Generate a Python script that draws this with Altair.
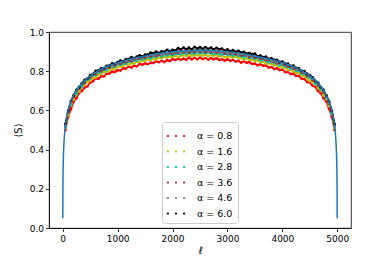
import altair as alt
import pandas as pd

# subsystem sizes for the simulated data (dots)
ELL = list(range(50, 5000, 50))

SERIES = ["α = 0.8", "α = 1.6", "α = 2.8", "α = 3.6", "α = 4.6", "α = 6.0"]
COLORS = ["#ff0000", "#bfbf00", "#00bfbf", "#a52a2a", "#808080", "#000000"]

S_08 = [.500, .568, .606, .644, .662, .689, .700, .717, .723, .742,
        .748, .763, .762, .774, .774, .787, .788, .798, .796, .805,
        .803, .815, .813, .823, .819, .828, .825, .837, .833, .840,
        .836, .844, .842, .851, .846, .853, .847, .856, .852, .861,
        .857, .864, .858, .864, .858, .869, .861, .868, .861, .869,
        .862, .867, .859, .867, .861, .866, .857, .861, .854, .860,
        .853, .858, .849, .852, .844, .850, .843, .846, .837, .839,
        .830, .835, .828, .830, .819, .821, .811, .815, .806, .808,
        .796, .796, .786, .787, .776, .776, .762, .760, .745, .742,
        .726, .719, .699, .687, .662, .645, .608, .567, .500]

S_16 = [.510, .575, .627, .654, .682, .695, .718, .728, .748, .751,
        .764, .768, .783, .785, .797, .798, .802, .812, .811, .823,
        .825, .826, .836, .833, .841, .838, .849, .848, .854, .852,
        .861, .857, .863, .860, .869, .867, .875, .869, .875, .873,
        .879, .873, .879, .882, .878, .886, .878, .884, .881, .886,
        .879, .884, .877, .884, .879, .883, .876, .880, .871, .875,
        .875, .869, .875, .866, .867, .860, .865, .858, .859, .851,
        .856, .847, .849, .839, .840, .838, .829, .832, .823, .818,
        .818, .806, .807, .800, .790, .791, .778, .775, .762, .749,
        .745, .733, .714, .700, .676, .657, .622, .581, .508]

S_28 = [.516, .591, .632, .669, .686, .711, .722, .741, .756, .762,
        .778, .780, .792, .797, .807, .806, .818, .823, .823, .835,
        .832, .839, .838, .849, .848, .855, .853, .863, .860, .866,
        .871, .866, .875, .874, .881, .876, .882, .881, .887, .882,
        .888, .889, .886, .894, .889, .895, .891, .890, .897, .891,
        .896, .891, .896, .891, .888, .892, .890, .884, .889, .883,
        .886, .880, .885, .878, .878, .871, .876, .868, .870, .864,
        .866, .856, .857, .855, .845, .849, .841, .840, .831, .834,
        .824, .822, .813, .813, .803, .800, .787, .787, .772, .765,
        .756, .737, .728, .708, .693, .663, .634, .585, .520]

S_36 = [.524, .590, .640, .668, .698, .713, .734, .741, .760, .768,
        .782, .785, .800, .801, .810, .818, .817, .828, .830, .840,
        .837, .846, .846, .855, .851, .860, .865, .863, .872, .868,
        .876, .875, .882, .877, .885, .883, .891, .888, .893, .889,
        .895, .893, .900, .896, .901, .895, .901, .898, .904, .899,
        .903, .897, .901, .898, .902, .895, .897, .898, .889, .894,
        .888, .893, .886, .888, .880, .882, .881, .872, .877, .869,
        .872, .864, .864, .856, .858, .850, .849, .840, .844, .835,
        .833, .823, .824, .813, .810, .807, .793, .790, .778, .772,
        .754, .747, .729, .717, .693, .674, .635, .595, .523]

S_46 = [.525, .599, .639, .677, .697, .722, .733, .750, .758, .776,
        .782, .794, .797, .811, .811, .820, .828, .826, .837, .839,
        .847, .845, .853, .860, .857, .865, .862, .872, .871, .877,
        .875, .884, .881, .886, .890, .885, .893, .892, .898, .894,
        .898, .902, .897, .903, .901, .907, .901, .907, .900, .906,
        .903, .908, .900, .905, .900, .904, .901, .895, .899, .895,
        .897, .891, .895, .886, .888, .887, .879, .883, .877, .877,
        .869, .873, .864, .864, .862, .852, .854, .847, .848, .838,
        .836, .833, .822, .821, .812, .811, .798, .793, .786, .769,
        .764, .748, .738, .716, .699, .676, .639, .599, .527]

S_60 = [.532, .598, .648, .676, .705, .718, .739, .755, .763, .780,
        .785, .801, .804, .814, .814, .827, .828, .840, .837, .846,
        .854, .851, .861, .861, .871, .867, .874, .880, .875, .884,
        .885, .894, .892, .900, .893, .901, .899, .909, .901, .909,
        .906, .917, .911, .920, .912, .920, .911, .924, .915, .922,
        .914, .923, .914, .920, .911, .919, .912, .915, .905, .911,
        .902, .907, .898, .904, .895, .898, .889, .892, .887, .889,
        .876, .879, .871, .874, .863, .865, .858, .858, .847, .849,
        .838, .838, .827, .828, .817, .814, .802, .800, .786, .779,
        .768, .750, .740, .718, .704, .676, .647, .598, .531]

# analytic curve (blue line)
ELL_THEORY = [1, 3, 6, 10, 20, 40, 70, 100, 150, 200, 300, 400, 500, 700,
              1000, 1300, 1600, 2000, 2500, 3000, 3400, 3700, 4000, 4300,
              4500, 4600, 4700, 4800, 4850, 4900, 4930, 4960, 4980, 4990,
              4994, 4997, 4999]
S_THEORY = [0.05, 0.20, 0.28, 0.34, 0.42, 0.50, 0.565, 0.600, 0.645, 0.677,
            0.721, 0.752, 0.776, 0.810, 0.843, 0.866, 0.883, 0.899, 0.907,
            0.899, 0.883, 0.866, 0.843, 0.810, 0.776, 0.752, 0.721, 0.677,
            0.645, 0.600, 0.565, 0.50, 0.42, 0.34, 0.28, 0.20, 0.05]

X_TICKS = [0, 1000, 2000, 3000, 4000, 5000]
Y_TICKS = [0.0, 0.2, 0.4, 0.6, 0.8, 1.0]

rows = []
for k, (name, vals) in enumerate(zip(SERIES, [S_08, S_16, S_28, S_36, S_46, S_60])):
    for l, s in zip(ELL, vals):
        rows.append({"ell": l, "S": s, "series": name, "order": k})
df = pd.DataFrame(rows)
df_t = pd.DataFrame({"ell": ELL_THEORY, "S": S_THEORY})

FONT = "DejaVu Sans"
THREE_DOTS = ("M -1.02,0 A 0.12,0.12 0 1,0 -0.78,0 A 0.12,0.12 0 1,0 -1.02,0 Z "
              "M -0.12,0 A 0.12,0.12 0 1,0 0.12,0 A 0.12,0.12 0 1,0 -0.12,0 Z "
              "M 0.78,0 A 0.12,0.12 0 1,0 1.02,0 A 0.12,0.12 0 1,0 0.78,0 Z")

xscale = alt.Scale(domain=[-250, 5250], nice=False, zero=False)
yscale = alt.Scale(domain=[0, 1], nice=False)

X_AXIS = alt.Axis(values=X_TICKS, format="d", title="ℓ",
                  titleFontStyle="italic", titleFontSize=10,
                  titleFontWeight="normal", titlePadding=2,
                  labelOverlap=False)
Y_AXIS = alt.Axis(values=Y_TICKS, format=".1f", title="⟨S⟩",
                  titleFontSize=10, titleFontWeight="normal",
                  titlePadding=6, labelOverlap=False, labelSeparation=0,
                  tickCount=6)

LEGEND = alt.Legend(title=None, orient="none", legendX=113, legendY=90,
                    symbolType=THREE_DOTS, symbolSize=324,
                    symbolStrokeWidth=0, symbolOpacity=1,
                    labelFont=FONT, labelFontSize=9.5,
                    labelColor="black", labelOffset=12,
                    rowPadding=1.5, padding=5,
                    fillColor="white", strokeColor="#cccccc",
                    cornerRadius=3)
COLOR = alt.Color("series:N", scale=alt.Scale(domain=SERIES, range=COLORS),
                  legend=LEGEND)

X_ENC = alt.X("ell:Q", scale=xscale, axis=X_AXIS)
Y_ENC = alt.Y("S:Q", scale=yscale, axis=Y_AXIS)

base = alt.Chart(df).encode(x=X_ENC, y=Y_ENC, color=COLOR)

lines = base.mark_line(strokeWidth=1.7, opacity=1).encode(detail="series:N")
dots = base.mark_circle(size=8, opacity=1).encode(order=alt.Order("order:Q"))

theory = alt.Chart(df_t).mark_line(color="#1f77b4", strokeWidth=1.5,
                                   interpolate="monotone").encode(
    x=X_ENC, y=Y_ENC)

chart = alt.layer(lines, dots, theory).properties(
    width=302, height=196,
    autosize=alt.AutoSizeParams(type="none"),
    padding={"left": 41, "top": 24, "right": 20, "bottom": 29},
).configure_view(stroke="black", strokeWidth=0.8).configure_axis(
    grid=False, domainColor="black", domainWidth=0.8,
    tickColor="black", tickSize=3.5, tickWidth=0.8,
    labelFont=FONT, labelFontSize=9, labelColor="black", labelPadding=2,
    titleFont=FONT, titleColor="black", labelOverlap=False,
).configure_axisX(labelPadding=3)

chart.save("out.html", embed_options={"renderer": "svg", "actions": False})
